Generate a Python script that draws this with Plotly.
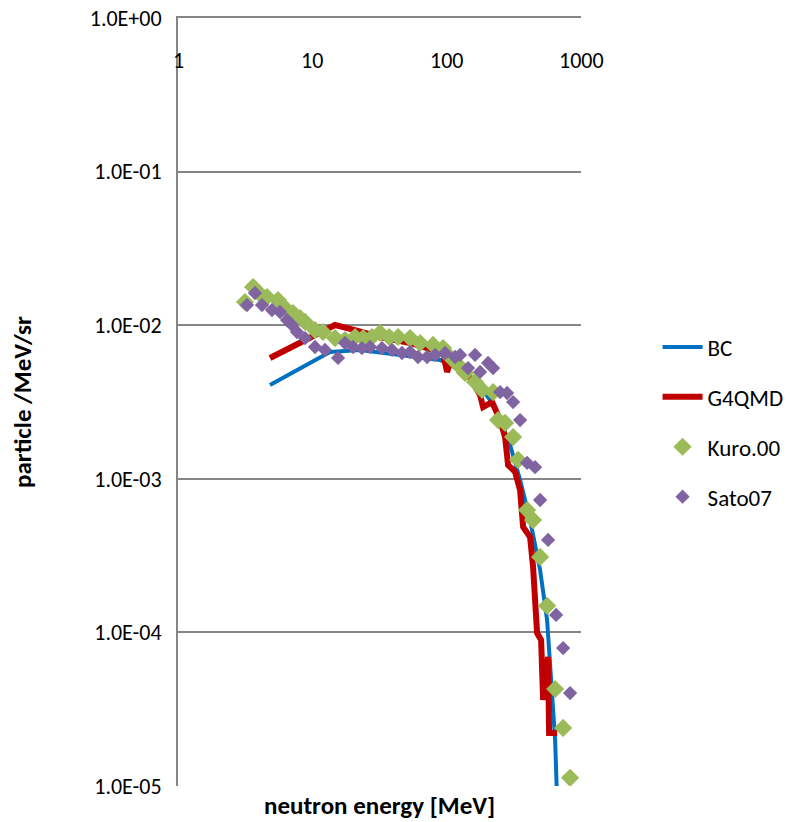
import math
import plotly.graph_objects as go

# ---- data ----
bc_energy = [4.84, 13.54, 22.7, 45.0, 89.3, 125.9, 162.7, 210.6, 249.8, 296.5, 352.0, 417.8, 496.1, 559.3, 619.8, 641.7, 664.0]
bc_value = [0.00408, 0.00669, 0.0069, 0.0064, 0.00594, 0.00511, 0.0044, 0.00326, 0.00241, 0.00166, 0.000982, 0.000539, 0.000255, 0.00012, 3.63e-5, 1.99e-5, 8.0e-6]

g4_energy = [4.84, 14.76, 20.8, 31.9, 53.4, 89.3, 94.0, 100.7, 107.8, 149.4, 177.3, 186.7, 217.9, 249.8, 272.2, 286.6, 323.2, 352.0, 370.7, 417.8, 439.9, 471.0, 504.7, 522.4, 568.9, 578.7, 664.0]
g4_value = [0.00612, 0.01003, 0.0093, 0.00838, 0.00766, 0.00669, 0.00659, 0.00496, 0.00594, 0.00453, 0.00351, 0.00293, 0.00316, 0.00241, 0.00187, 0.00123, 0.00111, 0.000845, 0.000486, 0.000418, 0.000267, 9.91e-5, 8.93e-5, 3.63e-5, 6.92e-5, 2.21e-5, 2.21e-5]

kuro_energy = [3.15, 3.62, 4.15, 4.60, 5.55, 6.26, 7.18, 8.10, 8.83, 10.47, 12.0, 14.76, 17.52, 20.8, 23.9, 27.8, 31.9, 37.3, 43.5, 53.4, 63.4, 79.2, 94.0, 106.0, 121.6, 137.1, 162.7, 183.5, 221.6, 241.4, 272.2, 312.2, 340.2, 396.9, 439.9, 496.1, 559.3, 641.7, 735.9, 829.5]
kuro_value = [0.01416, 0.01773, 0.01572, 0.01526, 0.01459, 0.01294, 0.01201, 0.01114, 0.0105, 0.0093, 0.00903, 0.00825, 0.00801, 0.00838, 0.00825, 0.00838, 0.0089, 0.00838, 0.00838, 0.00825, 0.00766, 0.00744, 0.0071, 0.00621, 0.00551, 0.00489, 0.00427, 0.00379, 0.00367, 0.00241, 0.00231, 0.00187, 0.00133, 0.000626, 0.000539, 0.00031, 0.000149, 4.28e-5, 2.39e-5, 1.13e-5]

sato_energy = [3.26, 3.74, 4.22, 5.01, 5.75, 6.48, 7.06, 7.69, 8.83, 10.47, 12.43, 15.54, 17.52, 20.1, 23.4, 26.9, 33.0, 39.2, 46.5, 53.4, 61.2, 71.5, 82.0, 97.3, 115.5, 125.9, 144.3, 162.7, 177.3, 203.4, 221.6, 249.8, 281.7, 312.2, 352.0, 396.9, 455.0, 496.1, 568.9, 652.7, 735.9, 829.5]
sato_value = [0.01353, 0.01621, 0.01353, 0.01256, 0.01219, 0.01081, 0.01003, 0.00903, 0.00825, 0.00721, 0.0069, 0.00612, 0.00766, 0.00721, 0.0071, 0.00721, 0.0071, 0.0069, 0.00659, 0.00669, 0.00621, 0.00621, 0.0064, 0.00659, 0.00621, 0.0064, 0.00526, 0.0064, 0.00496, 0.00568, 0.00526, 0.00367, 0.00362, 0.00316, 0.00241, 0.00127, 0.00119, 0.000728, 0.0004, 0.00013, 7.91e-5, 4.03e-5]

x_ticks = [1, 10, 100, 1000]
x_tick_text = ["1", "10", "100", "1000"]
y_ticks = [1e-5, 1e-4, 1e-3, 1e-2, 1e-1, 1]
y_tick_text = ["1.0E-05", "1.0E-04", "1.0E-03", "1.0E-02", "1.0E-01", "1.0E+00"]

FONT = "Carlito, Lato, Calibri, sans-serif"
TICK_SIZE = 22
TITLE_SIZE = 25
GRID = "#868686"

fig = go.Figure()
fig.add_trace(go.Scatter(x=bc_energy, y=bc_value, mode="lines", name="BC",
                         line=dict(color="#0070C0", width=4), legendgroup="a"))
fig.add_trace(go.Scatter(x=g4_energy, y=g4_value, mode="lines", name="G4QMD",
                         line=dict(color="#C00000", width=6), legendgroup="b"))
fig.add_trace(go.Scatter(x=kuro_energy, y=kuro_value, mode="markers", name="Kuro.00",
                         marker=dict(symbol="diamond", size=14, color="#9BBB59"), legendgroup="c"))
fig.add_trace(go.Scatter(x=sato_energy, y=sato_value, mode="markers", name="Sato07",
                         marker=dict(symbol="diamond", size=11, color="#8064A2"), legendgroup="d"))

# x tick labels sit just under the top axis line (axis crosses at y = 1)
annotations = []
for v, t in zip(x_ticks, x_tick_text):
    annotations.append(dict(text=t, xref="x", yref="paper", x=math.log10(v), y=1,
                            yshift=-42, showarrow=False, xanchor="center", yanchor="middle",
                            font=dict(size=TICK_SIZE)))
annotations.append(dict(text="<b>neutron energy [MeV]</b>", xref="paper", yref="paper",
                        x=0.5, y=0, yshift=-19, showarrow=False, xanchor="center",
                        yanchor="middle", font=dict(size=TITLE_SIZE)))
annotations.append(dict(text="<b>particle /MeV/sr</b>", xref="paper", yref="paper",
                        x=0, y=0.5, xshift=-156, showarrow=False, textangle=-90,
                        xanchor="center", yanchor="middle", font=dict(size=TITLE_SIZE)))

fig.update_layout(
    width=794, height=822,
    margin=dict(l=178, r=213, t=18, b=36, autoexpand=False),
    paper_bgcolor="white", plot_bgcolor="white",
    font=dict(family=FONT, size=TICK_SIZE, color="black"),
    showlegend=True,
    legend=dict(x=1.19, y=0.5996, xanchor="left", yanchor="top",
                font=dict(size=23), tracegroupgap=17, traceorder="grouped",
                itemwidth=40, bgcolor="rgba(0,0,0,0)"),
    xaxis=dict(type="log", range=[0, 3], side="top", automargin=False,
               showticklabels=False, ticks="",
               showgrid=False, zeroline=False,
               showline=True, linecolor=GRID, linewidth=2),
    yaxis=dict(type="log", range=[-5, 0], automargin=False,
               tickvals=y_ticks, ticktext=y_tick_text,
               showgrid=True, gridcolor=GRID, gridwidth=1.5,
               showline=True, linecolor=GRID, linewidth=2,
               ticks="", zeroline=False, ticklabelstandoff=10),
    annotations=annotations,
)

fig.write_html("out.html", config={"displayModeBar": False},
               post_script="document.body.style.margin='0';document.body.style.overflow='hidden';")
